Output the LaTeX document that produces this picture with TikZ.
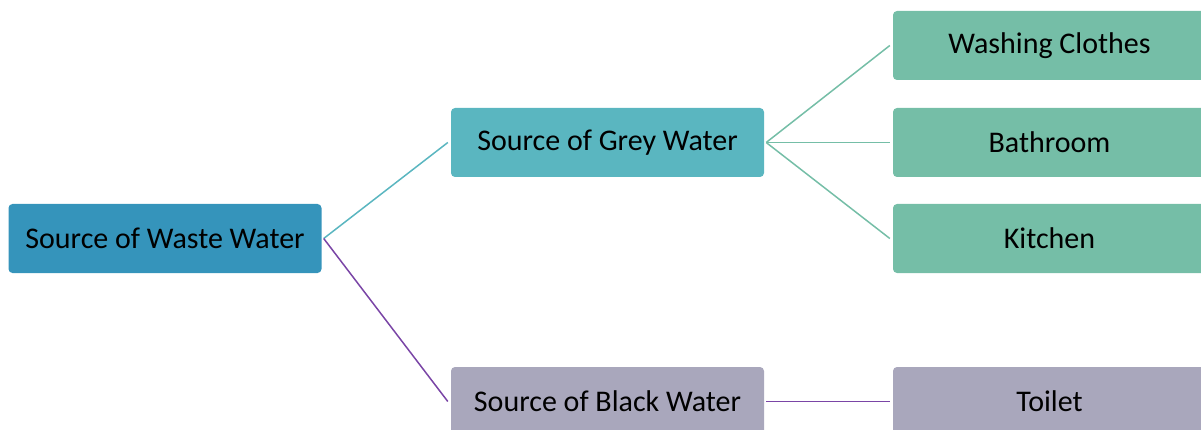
\documentclass[tikz,border=0pt]{standalone}
\usepackage{fontspec}
\setmainfont{Carlito}
\definecolor{rootblue}{RGB}{53,148,187}
\definecolor{greyteal}{RGB}{90,182,192}
\definecolor{leafgreen}{RGB}{117,190,167}
\definecolor{blackgrey}{RGB}{169,167,188}
\definecolor{purpleline}{RGB}{122,69,166}
\tikzset{
  box/.style={rounded corners=4pt, minimum width=313pt, minimum height=69pt,
    inner sep=0pt, font=\fontsize{30}{34}\selectfont, text=black, anchor=center},
  link/.style={line width=1.5pt}
}
\begin{document}
\begin{tikzpicture}[x=1pt,y=-1pt]
\useasboundingbox (0,0) rectangle (1201,430);
\clip (0,0) rectangle (1201,430);
\node[box, fill=rootblue] (root) at (165,238.5) {Source of Waste Water};
\node[box, fill=greyteal] (grey) at (607.5,142.5) {Source of Grey Water};
\node[box, fill=blackgrey] (black) at (607.5,401.5) {Source of Black Water};
\node[box, fill=leafgreen] (wash) at (1049.5,45.5) {Washing Clothes};
\node[box, fill=leafgreen] (bath) at (1049.5,142.5) {Bathroom};
\node[box, fill=leafgreen] (kitchen) at (1049.5,238.5) {Kitchen};
\node[box, fill=blackgrey] (toilet) at (1049.5,401.5) {Toilet};
\draw[link, greyteal] ([xshift=2pt]root.east) -- ([xshift=-3pt]grey.west);
\draw[link, purpleline] ([xshift=2pt]root.east) -- ([xshift=-3pt]black.west);
\draw[link, leafgreen] ([xshift=2pt]grey.east) -- ([xshift=-3pt]wash.west);
\draw[link, leafgreen] ([xshift=2pt]grey.east) -- ([xshift=-3pt]bath.west);
\draw[link, leafgreen] ([xshift=2pt]grey.east) -- ([xshift=-3pt]kitchen.west);
\draw[link, purpleline] ([xshift=2pt]black.east) -- ([xshift=-3pt]toilet.west);
\end{tikzpicture}
\end{document}
